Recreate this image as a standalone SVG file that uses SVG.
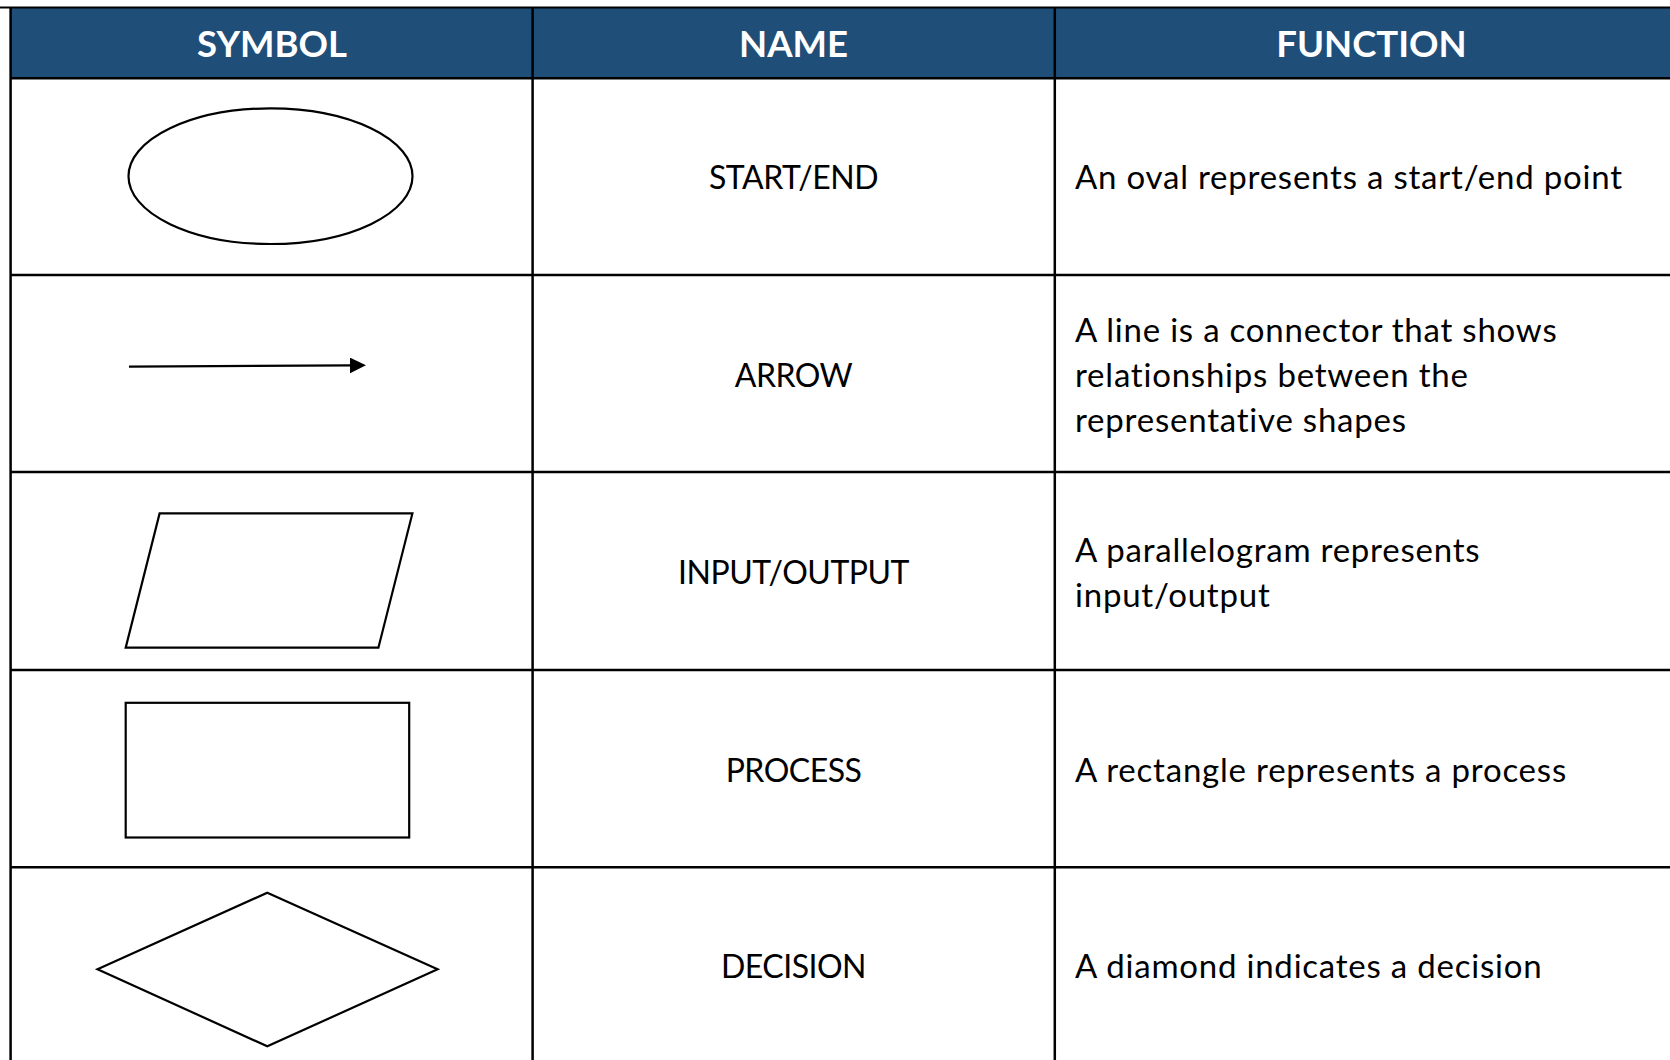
<svg xmlns="http://www.w3.org/2000/svg" width="1670" height="1060" viewBox="0 0 1670 1060">
<style>
.grid{stroke:#000;stroke-width:2.5;fill:none}
.shape{fill:#fff;stroke:#000;stroke-width:2.2}
.hdr{font-family:Lato,"Liberation Sans",sans-serif;font-weight:700;font-size:36.5px;fill:#fff;text-anchor:middle}
.name{font-family:Lato,"Liberation Sans",sans-serif;font-size:32px;letter-spacing:-0.5px;fill:#000;text-anchor:middle}
.fn{font-family:Lato,"Liberation Sans",sans-serif;font-size:33px;letter-spacing:0.78px;fill:#000}
</style>
<defs>
<marker id="ah" markerUnits="userSpaceOnUse" markerWidth="17" markerHeight="16" refX="2" refY="7.8" orient="auto">
<path d="M0,0 L16,7.8 L0,15.6 Z" fill="#000"/>
</marker>
</defs>
<rect x="0" y="0" width="1670" height="1060" fill="#fff"/>
<g id="header">
<rect x="10.6" y="7.5" width="1700" height="70.8" fill="#1F4E79"/>
<text class="hdr" x="272" y="57.3">SYMBOL</text>
<text class="hdr" x="793.5" y="57.3">NAME</text>
<text class="hdr" x="1371.5" y="57.3">FUNCTION</text>
</g>
<g id="table-grid" class="grid">
<line x1="0" y1="7.5" x2="1670" y2="7.5" stroke-width="2"/>
<line x1="10.6" y1="7.5" x2="10.6" y2="1060"/>
<line x1="532.6" y1="7.5" x2="532.6" y2="1060"/>
<line x1="1054.8" y1="7.5" x2="1054.8" y2="1060"/>
<line x1="10.6" y1="78.3" x2="1670" y2="78.3"/>
<line x1="10.6" y1="275" x2="1670" y2="275"/>
<line x1="10.6" y1="472" x2="1670" y2="472"/>
<line x1="10.6" y1="670" x2="1670" y2="670"/>
<line x1="10.6" y1="867.2" x2="1670" y2="867.2"/>
</g>
<g id="row-start-end">
<ellipse class="shape" cx="270.5" cy="176.2" rx="142" ry="67.8"/>
<text class="name" x="793.5" y="189.3">START/END</text>
<text class="fn" x="1075" y="189.3">An oval represents a start/end point</text>
</g>
<g id="row-arrow">
<g id="connectors">
<line x1="129" y1="366.7" x2="352" y2="365.4" stroke="#000" stroke-width="2.2" marker-end="url(#ah)"/>
</g>
<text class="name" x="793.5" y="387">ARROW</text>
<text class="fn" x="1075" y="341.7">A line is a connector that shows</text>
<text class="fn" x="1075" y="386.7">relationships between the</text>
<text class="fn" x="1075" y="431.7">representative shapes</text>
</g>
<g id="row-input-output">
<polygon class="shape" points="159.6,513.4 412.4,513.4 378.4,647.7 125.7,647.7"/>
<text class="name" x="793.5" y="583.6">INPUT/OUTPUT</text>
<text class="fn" x="1075" y="561.7">A parallelogram represents</text>
<text class="fn" x="1075" y="606.7">input/output</text>
</g>
<g id="row-process">
<rect class="shape" x="125.7" y="702.8" width="283.5" height="134.7"/>
<text class="name" x="793.5" y="781.6">PROCESS</text>
<text class="fn" x="1075" y="781.6">A rectangle represents a process</text>
</g>
<g id="row-decision">
<polygon class="shape" points="267.3,892.7 437.6,969.3 267.3,1046.3 97.5,969.3"/>
<text class="name" x="793.5" y="978.3">DECISION</text>
<text class="fn" x="1075" y="978.3">A diamond indicates a decision</text>
</g>
</svg>
